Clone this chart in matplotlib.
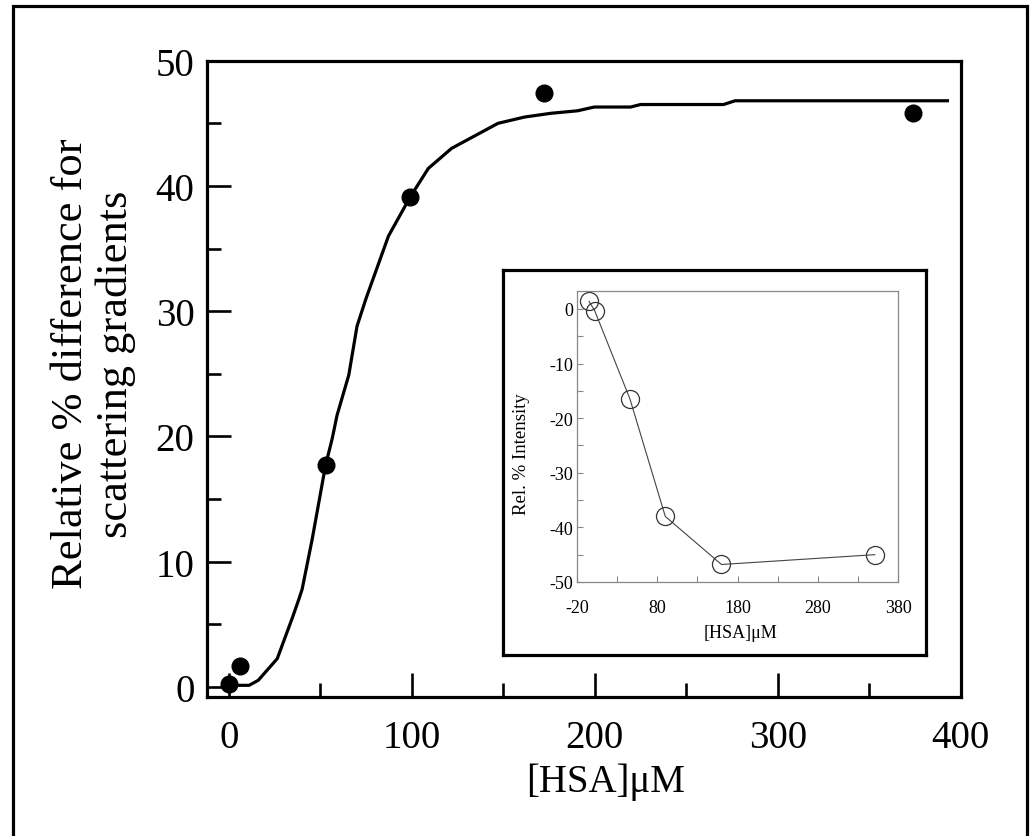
import numpy as np
import matplotlib
matplotlib.use("Agg")
import matplotlib.pyplot as plt
from matplotlib.patches import Rectangle

plt.rcParams['font.family'] = ['Liberation Serif', 'DejaVu Serif']
plt.rcParams['axes.unicode_minus'] = False

# main panel: measured points
hsa = [0, 6, 53, 99, 172, 374]
rel_diff = [0.26, 1.67, 17.7, 39.1, 47.4, 45.8]

# main panel: fitted curve
fit_x = [0, 11, 16, 26.4, 34.6, 38.2, 40, 45.5, 52.8, 56.4, 59.1, 65.5, 70, 74.9,
         87.2, 99, 109, 121.7, 134.4, 147.1, 161.6, 176, 190.6, 199.7, 219.6, 225,
         270.4, 276.7, 392.8]
fit_y = [0.13, 0.13, 0.53, 2.26, 5.5, 7.0, 7.8, 11.8, 17.7, 19.8, 21.7, 24.9, 28.8, 31.0,
         36.0, 39.1, 41.4, 43.0, 44.0, 45.0, 45.5, 45.8, 46.0, 46.3, 46.3, 46.5,
         46.5, 46.8, 46.8]

# inset: relative intensity
ins_x = [-5, 2, 46, 90, 160, 351]
ins_y = [1.4, -0.3, -16.5, -38.0, -46.8, -45.0]

fig = plt.figure(figsize=(10.3, 8.37), dpi=100)

# outer border
fig.patches.append(Rectangle((13/1030, -0.01), 1014/1030, 1 - 7/837 + 0.01,
                             transform=fig.transFigure, fill=False,
                             lw=2.3, ec='black', zorder=0))

ax = fig.add_axes([0.2010, 0.1661, 0.7316, 0.7602])
ax.plot(fit_x, fit_y, color='black', lw=2.3, zorder=2)
ax.plot(hsa, rel_diff, 'o', color='black', ms=12, zorder=3)
ax.set_xlim(-12, 400)
ax.set_ylim(-0.8, 50)
ax.set_xticks([0, 100, 200, 300, 400])
ax.set_xticks([50, 150, 250, 350], minor=True)
ax.set_yticks([0, 10, 20, 30, 40, 50])
ax.set_yticks([5, 15, 25, 35, 45], minor=True)
for s in ax.spines.values():
    s.set_linewidth(2.3)
ax.tick_params(which='both', direction='in', top=False, right=False, width=1.9)
ax.tick_params(which='major', length=17)
ax.tick_params(which='minor', length=10)
ax.tick_params(axis='x', labelsize=28, pad=16)
ax.tick_params(axis='y', labelsize=28, pad=9)

ax.set_xlabel('[HSA]\u03bcM', fontsize=28, va='center')
ax.xaxis.set_label_coords(0.5295, -0.132)
ax.set_ylabel('Relative % difference for\nscattering gradients', fontsize=32,
              va='center', linespacing=1.15)
ax.yaxis.set_label_coords(-0.151, 0.525)

# inset frame
frame = fig.add_axes([0.4887, 0.2162, 0.4104, 0.46])
frame.set_xticks([])
frame.set_yticks([])
for s in frame.spines.values():
    s.set_linewidth(2.3)

ins = fig.add_axes([0.5602, 0.3035, 0.3117, 0.3477])
ins.plot(ins_x, ins_y, '-', color='#444444', lw=0.8)
ins.plot(ins_x, ins_y, 'o', mfc='none', mec='#333333', mew=0.9, ms=13)
ins.set_xlim(-20, 380)
ins.set_ylim(-50, 3.3)
ins.set_xticks([-20, 80, 180, 280, 380])
ins.set_xticks([30, 130, 230, 330], minor=True)
ins.set_yticks([0, -10, -20, -30, -40, -50])
ins.set_yticks([-5, -15, -25, -35, -45], minor=True)
for s in ins.spines.values():
    s.set_linewidth(0.9)
    s.set_color('#888888')
ins.tick_params(which='both', direction='in', top=False, right=False,
                length=4, width=0.8, color='#888888')
ins.tick_params(axis='x', labelsize=13, pad=12)
ins.tick_params(axis='y', labelsize=13, pad=3)
ins.set_xlabel('[HSA]\u03bcM', fontsize=13, va='center')
ins.xaxis.set_label_coords(0.51, -0.172)
ins.set_ylabel('Rel. % Intensity', fontsize=13.5, va='center')
ins.yaxis.set_label_coords(-0.172, 0.443)

fig.savefig('out.png', dpi=100)
